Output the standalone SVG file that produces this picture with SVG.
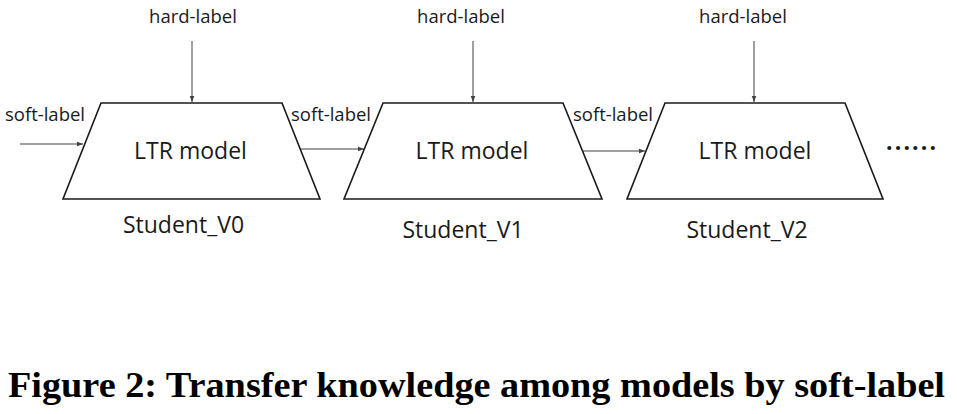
<svg xmlns="http://www.w3.org/2000/svg" width="957" height="414" viewBox="0 0 957 414">
<style>
.trap{fill:#fff;stroke:#1a1a1a;stroke-width:1.6}
.conn{stroke:#404040;stroke-width:1;fill:none;marker-end:url(#ah)}
.sm{font-family:"Open Sans","Noto Sans",sans-serif;font-size:18.5px;fill:#1a1a1a}
.md{font-family:"Open Sans","Noto Sans",sans-serif;font-size:23px;fill:#1a1a1a}
.cap{font-family:"Liberation Serif",serif;font-weight:bold;font-size:35px;fill:#000}
</style>
<defs>
<marker id="ah" viewBox="0 0 8 8" refX="8" refY="4" markerWidth="6" markerHeight="6" markerUnits="userSpaceOnUse" orient="auto">
<path d="M0,1 L8,4 L0,7 z" fill="#404040"/>
</marker>
</defs>
<rect width="957" height="414" fill="#fff"/>
<g id="connectors">
<line class="conn" x1="20" y1="144" x2="83" y2="144"/>
<line class="conn" x1="301" y1="149" x2="364" y2="149"/>
<line class="conn" x1="583" y1="151" x2="645" y2="151"/>
<line class="conn" x1="192" y1="41" x2="192" y2="102"/>
<line class="conn" x1="473" y1="41" x2="473" y2="102"/>
<line class="conn" x1="754" y1="41" x2="754" y2="102"/>
</g>
<g id="labels">
<text class="sm" x="193" y="23" text-anchor="middle">hard-label</text>
<text class="sm" x="461" y="23" text-anchor="middle">hard-label</text>
<text class="sm" x="743" y="23" text-anchor="middle">hard-label</text>
<text class="sm" x="45" y="121" text-anchor="middle">soft-label</text>
<text class="sm" x="331" y="121" text-anchor="middle">soft-label</text>
<text class="sm" x="613" y="121" text-anchor="middle">soft-label</text>
</g>
<g id="student_v0">
<polygon class="trap" points="101,103 282,103 320,199 63,199"/>
<text class="md" x="190.5" y="159" text-anchor="middle">LTR model</text>
<text class="md" x="183.5" y="233" text-anchor="middle">Student_V0</text>
</g>
<g id="student_v1">
<polygon class="trap" points="383,103 563,103 602,199 344,199"/>
<text class="md" x="472" y="159" text-anchor="middle">LTR model</text>
<text class="md" x="463" y="238" text-anchor="middle">Student_V1</text>
</g>
<g id="student_v2">
<polygon class="trap" points="665,103 845,103 883,199 627,199"/>
<text class="md" x="755" y="159" text-anchor="middle">LTR model</text>
<text class="md" x="747" y="238" text-anchor="middle">Student_V2</text>
</g>
<g id="ellipsis">
<text class="md" x="886" y="149.5" font-weight="bold" textLength="50" lengthAdjust="spacing">......</text>
</g>
<text class="cap" x="8" y="397" textLength="937" lengthAdjust="spacingAndGlyphs">Figure 2: Transfer knowledge among models by soft-label</text>
</svg>
